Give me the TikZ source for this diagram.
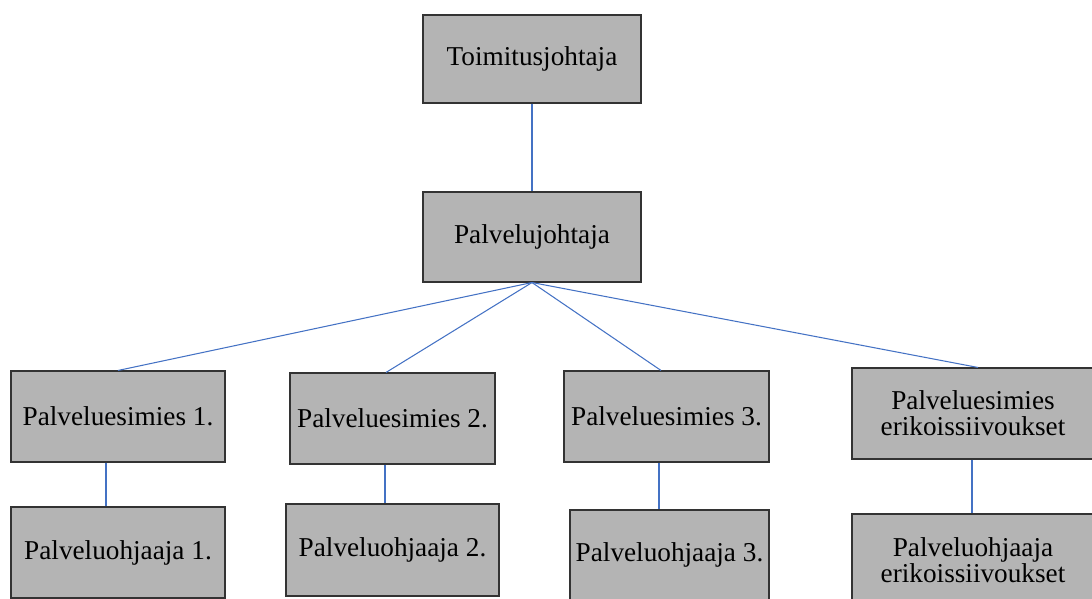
\documentclass[tikz,border=0pt]{standalone}
\usepackage{fontspec}
\setmainfont{Liberation Serif}
\usepackage{tikz}
\usetikzlibrary{calc}
\definecolor{boxgray}{RGB}{180,180,180}
\definecolor{linkblue}{RGB}{68,114,196}

\begin{document}
\begin{tikzpicture}[
        unit/.style={draw=black!80, fill=boxgray, line width=0.6pt, inner sep=0pt,
                     align=center, font=\fontsize{15.5}{15}\selectfont},
        link/.style={linkblue, line width=0.6pt}]
                \useasboundingbox (0,0) rectangle (21.84,-11.98);
                \node [unit, minimum width=4.36cm, minimum height=1.76cm] (toj) at (10.64,-1.18) {Toimitusjohtaja};
                \node [unit, minimum width=4.36cm, minimum height=1.80cm] (pj) at (10.64,-4.74) {Palvelujohtaja};
                \node [unit, minimum width=4.28cm, minimum height=1.82cm] (pe1) at (2.36,-8.33) {Palveluesimies 1.};
                \node [unit, minimum width=4.10cm, minimum height=1.82cm] (pe2) at (7.85,-8.37) {Palveluesimies 2.};
                \node [unit, minimum width=4.10cm, minimum height=1.82cm] (pe3) at (13.33,-8.33) {Palveluesimies 3.};
                \node [unit, minimum width=4.84cm, minimum height=1.82cm] (pee) at (19.46,-8.27) {Palveluesimies\\erikoissiivoukset};
                \node [unit, minimum width=4.28cm, minimum height=1.82cm] (po1) at (2.36,-11.05) {Palveluohjaaja 1.};
                \node [unit, minimum width=4.26cm, minimum height=1.84cm] (po2) at (7.85,-11.00) {Palveluohjaaja 2.};
                \node [unit, minimum width=3.98cm, minimum height=1.80cm] (po3) at (13.39,-11.10) {Palveluohjaaja 3.};
                \node [unit, minimum width=4.84cm, minimum height=1.84cm] (poe) at (19.46,-11.20) {Palveluohjaaja\\erikoissiivoukset};
                \draw [link] (toj.south) -- (pj.north);
                \draw [link] (pj.south) -- (pe1.north);
                \draw [link] (pj.south) -- ($(pe2.north)+(-0.13,0)$);
                \draw [link] (pj.south) -- ($(pe3.north)+(-0.11,0)$);
                \draw [link] (pj.south) -- ($(pee.north)+(0.10,0)$);
                \draw [link] ($(pe1.south)+(-0.24,0)$) coordinate (v1) -- (v1 |- po1.north);
                \draw [link] ($(pe2.south)+(-0.15,0)$) coordinate (v2) -- (v2 |- po2.north);
                \draw [link] ($(pe3.south)+(-0.15,0)$) coordinate (v3) -- (v3 |- po3.north);
                \draw [link] ($(pee.south)+(-0.02,0)$) coordinate (v4) -- (v4 |- poe.north);
            \end{tikzpicture}
\end{document}
